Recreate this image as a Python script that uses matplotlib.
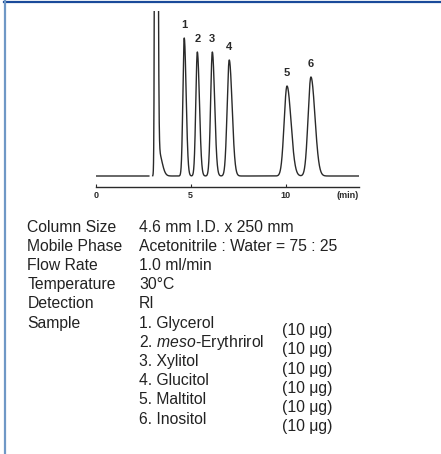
import numpy as np
import matplotlib
matplotlib.use("Agg")
import matplotlib.pyplot as plt
from matplotlib.lines import Line2D

plt.rcParams['font.family'] = ['Liberation Sans', 'DejaVu Sans']
plt.rcParams['mathtext.fontset'] = 'custom'
plt.rcParams['mathtext.rm'] = 'Liberation Sans'
plt.rcParams['mathtext.it'] = 'Liberation Sans:italic'

# ---- data ----
peak_labels = ['1', '2', '3', '4', '5', '6']
peak_times = [4.66, 5.35, 6.14, 7.03, 10.07, 11.33]        # min
peak_heights = [138, 124, 124, 116, 90, 99]                 # detector units
peak_sigma_left = [0.07, 0.08, 0.09, 0.11, 0.15, 0.15]
peak_sigma_right = [0.10, 0.11, 0.12, 0.15, 0.21, 0.21]
solvent_time = 3.17
solvent_height = 2000
tick_values = [0, 5, 10]
time_max = 13.86
gap_start, gap_end = 2.80, 3.00

cond_labels = ['Column Size', 'Mobile Phase', 'Flow Rate', 'Temperature', 'Detection', 'Sample']
cond_values = ['4.6 mm I.D. x 250 mm', 'Acetonitrile : Water = 75 : 25', '1.0 ml/min',
               '30°C', 'RI']
sample_names = ['1. Glycerol', r'2. $\mathit{meso}$-Erythrirol', '3. Xylitol',
                '4. Glucitol', '5. Maltitol', '6. Inositol']
sample_amounts = ['(10 μg)'] * 6

# ---- figure ----
W, H = 441, 454
fig = plt.figure(figsize=(W / 100, H / 100), dpi=100)

def fx(px):
    return px / W

def fy(py):
    return 1 - py / H

# frame lines
fig.add_artist(Line2D([fx(4), fx(441)], [fy(2), fy(2)], color='#1a4a9a', lw=1.6))
fig.add_artist(Line2D([fx(5), fx(5)], [fy(0), fy(454)], color='#6f98c6', lw=1.6))

# chromatogram
ax = fig.add_axes([fx(95.7), fy(187.3), fx(359) - fx(95.7), fy(11) - fy(187.3)])
t = np.linspace(0, time_max, 4000)

def apeak(t, c, h, sl, sr):
    s = np.where(t < c, sl, sr)
    return h * np.exp(-0.5 * ((t - c) / s) ** 2)

y = np.zeros_like(t)
y += apeak(t, solvent_time, solvent_height, 0.04, 0.06)
y += apeak(t, 3.30, 25, 0.02, 0.18)
for c, h, sl, sr in zip(peak_times, peak_heights, peak_sigma_left, peak_sigma_right):
    y += apeak(t, c, h, sl, sr)
y = np.where((t > gap_start) & (t < gap_end), np.nan, y)

ax.plot(t, y, color='#2a2a2a', lw=1.0)
ax.set_xlim(0, time_max)
ax.set_ylim(-11.3, 165)
for s in ['left', 'right', 'top']:
    ax.spines[s].set_visible(False)
ax.spines['bottom'].set_linewidth(1.0)
ax.spines['bottom'].set_color('#2a2a2a')
ax.set_yticks([])
ax.set_xticks(tick_values)
ax.set_xticklabels([str(v) for v in tick_values], fontsize=6.5, fontweight='bold', color='#2a2a2a')
ax.tick_params(axis='x', direction='in', length=2.5, width=0.8, pad=2.5, color='#2a2a2a')
ax.annotate('(min)', xy=(13.28, 0), xycoords=('data', 'axes fraction'),
            xytext=(0, -3.0), textcoords='offset points', ha='center', va='top',
            fontsize=6.5, fontweight='bold', color='#2a2a2a')
for lab, c, h in zip(peak_labels, peak_times, peak_heights):
    ax.annotate(lab, xy=(c, h), xytext=(0, 6), textcoords='offset points',
                ha='center', va='bottom', fontsize=8, fontweight='bold', color='#2a2a2a')

# conditions text
fs = 11.3
row0 = 231.7
step = 19.2
for i, lab in enumerate(cond_labels):
    fig.text(fx(27.3), fy(row0 + i * step), lab, fontsize=fs, va='baseline', ha='left', color='#222222')
for i, val in enumerate(cond_values):
    fig.text(fx(139), fy(row0 + i * step), val, fontsize=fs, va='baseline', ha='left', color='#222222')
s0 = row0 + 5 * step
for i, name in enumerate(sample_names):
    fig.text(fx(139), fy(s0 + i * step), name, fontsize=fs, va='baseline', ha='left', color='#222222')
for i, amt in enumerate(sample_amounts):
    fig.text(fx(281.7), fy(s0 + 7.5 + i * step), amt, fontsize=fs, va='baseline', ha='left', color='#222222')

fig.savefig('out.png', dpi=100)
